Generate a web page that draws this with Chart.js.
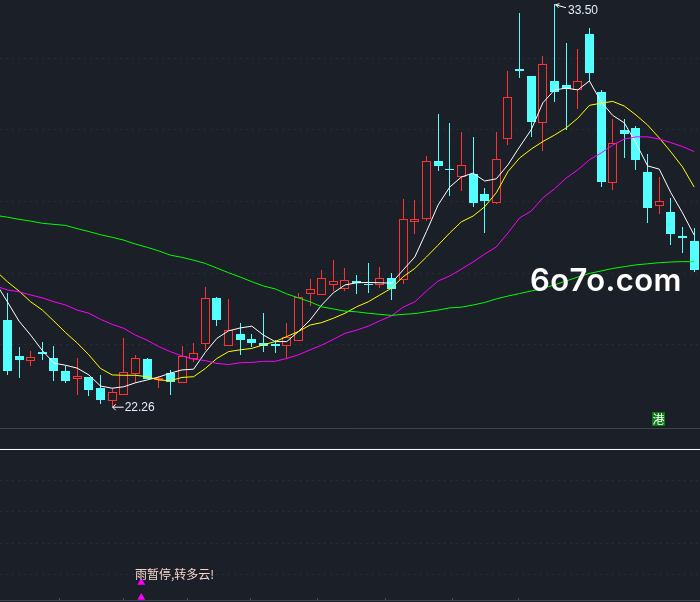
<!DOCTYPE html>
<html>
<head>
<meta charset="utf-8">
<title>K-line</title>
<script src="https://cdn.jsdelivr.net/npm/chart.js@4.4.0/dist/chart.umd.min.js"></script>
<style>
  html, body { margin: 0; padding: 0; background: #1b1f28; overflow: hidden; }
  canvas { display: block; }
</style>
</head>
<body>
<canvas id="klineChart" width="700" height="602"></canvas>
<script>
// Candles, one entry per trading day
const opens = [25.70,24.69,23.69,23.56,23.80,23.63,23.27,23.04,23.10,22.79,22.42,22.61,23.19,23.60,23.02,23.21,22.93,23.60,24.01,25.31,23.96,24.30,24.16,24.05,24.02,23.98,24.11,25.43,25.40,25.68,25.56,25.78,25.70,25.67,25.86,25.82,27.43,27.50,29.12,28.90,28.69,28.77,28.21,27.96,29.75,31.70,31.50,30.20,31.36,31.25,31.12,32.67,31.05,28.51,29.99,30.05,28.82,27.88,27.71,27.04,26.90];
const closes = [24.69,23.28,23.58,23.65,23.74,23.27,22.99,23.13,22.74,22.46,22.67,23.23,23.62,23.05,23.07,22.97,23.70,23.76,25.30,24.69,24.40,24.13,24.05,23.97,23.97,24.22,25.33,25.55,25.86,25.77,25.80,25.72,25.67,25.86,25.56,27.50,27.50,29.12,28.99,28.88,29.01,27.96,28.01,29.18,30.90,31.64,30.22,31.82,31.05,31.13,31.35,31.58,28.54,29.62,29.88,29.16,27.82,28.00,27.09,26.98,26.09];
const highs = [25.70,25.45,23.94,23.83,24.08,23.97,23.41,23.63,23.10,23.16,22.79,24.19,23.72,23.63,23.13,23.30,23.97,24.05,25.61,25.33,25.28,24.61,24.30,24.89,24.13,24.61,25.45,25.84,26.09,26.37,26.14,25.95,26.28,26.17,26.00,28.07,28.04,29.27,30.44,30.19,29.94,29.80,28.37,29.94,31.64,33.26,31.50,32.06,33.50,32.42,32.25,32.84,31.11,30.30,30.30,30.10,29.32,28.68,28.10,27.29,27.26];
const lows = [24.69,23.16,23.07,23.41,23.58,23.00,22.94,22.61,22.57,22.35,22.26,22.61,22.94,23.05,22.79,22.61,22.93,23.52,23.86,24.52,23.96,23.72,23.94,23.80,23.77,23.63,24.11,25.08,25.40,25.50,25.50,25.42,25.45,25.58,25.25,25.70,27.09,27.46,28.85,28.15,28.29,27.84,27.12,27.93,29.57,31.44,29.80,29.41,30.77,29.99,30.58,31.36,28.40,28.32,29.21,28.88,27.40,27.65,26.78,26.56,26.03];

// Moving averages
const ma5 = [25.72,25.20,24.66,24.27,23.84,23.49,23.43,23.35,23.16,22.85,22.79,22.83,22.94,23.02,23.10,23.21,23.30,23.32,23.79,24.18,24.39,24.47,24.52,24.27,24.09,24.09,24.37,24.69,25.11,25.45,25.67,25.73,25.74,25.73,25.72,26.09,26.45,27.16,27.90,28.40,28.68,28.79,28.57,28.63,29.02,29.52,30.00,30.75,31.11,31.16,31.11,31.36,30.78,30.40,30.19,29.63,28.99,28.90,28.24,27.68,27.06];
const ma10 = [26.06,25.76,25.50,25.20,24.97,24.66,24.34,24.05,23.72,23.34,23.16,23.15,23.15,23.11,23.02,23.00,23.09,23.11,23.34,23.62,23.81,23.86,23.90,24.00,24.09,24.23,24.37,24.55,24.62,24.74,24.88,25.06,25.20,25.39,25.58,25.90,26.13,26.45,26.78,27.12,27.43,27.59,27.85,28.24,28.83,29.21,29.46,29.67,29.85,30.05,30.32,30.68,30.74,30.79,30.66,30.41,30.13,29.77,29.38,28.96,28.40];
const ma20 = [25.64,25.53,25.48,25.39,25.31,25.20,25.11,24.97,24.88,24.71,24.57,24.46,24.27,24.13,23.95,23.81,23.69,23.60,23.56,23.48,23.45,23.50,23.51,23.54,23.54,23.62,23.72,23.86,23.99,24.15,24.32,24.41,24.52,24.67,24.81,25.05,25.20,25.50,25.78,25.92,26.11,26.31,26.53,26.73,27.12,27.54,27.73,28.10,28.35,28.65,28.88,29.16,29.35,29.57,29.74,29.80,29.80,29.74,29.64,29.53,29.39];
const ma60 = [27.61,27.56,27.50,27.45,27.39,27.36,27.33,27.24,27.16,27.07,27.00,26.92,26.81,26.72,26.62,26.50,26.44,26.36,26.27,26.14,26.01,25.89,25.76,25.64,25.56,25.42,25.31,25.20,25.06,25.00,24.94,24.92,24.88,24.85,24.82,24.85,24.87,24.92,24.97,25.03,25.05,25.11,25.18,25.28,25.36,25.43,25.50,25.58,25.67,25.78,25.89,25.99,26.06,26.13,26.18,26.23,26.26,26.29,26.31,26.32,26.32];

// Axes
const priceGrid = [24, 26, 28, 30, 32];
const oscGrid = [20, 40, 60, 80];
const dateTicks = [5.44, 10.9, 16.4, 21.8, 27.6, 33.4, 39.2, 44.9];

// Horizontal rules of the sub panel, in sub panel units
const panelRuleGray = 113.46;
const panelRuleWhite = 100;
const panelRuleBottom = 3.2;

// Signal marks in the sub panel
const signalX = [12.5, 12.5];
const signalY = [14.7, 5.1];

// Texts
const highLabel = '33.50';
const lowLabel = '22.26';
const signalLabel = '雨暂停,转多云!';
const boardLabel = '港';
const watermark = '6o7o.com';

const BG = '#1b1f28';
const RED = '#ff3232';
const CYAN = '#54ffff';
const X_MIN = 0.364;
const X_MAX = 60.50;

const indexes = opens.map((_, i) => i);
const isUp = i => closes[i] > opens[i];
const lineData = values => values.map((y, i) => ({ x: i, y }));
const rule = value => [{ x: X_MIN, y: value }, { x: X_MAX, y: value }];

function maDataset(label, values, color) {
  return { type: 'line', label, data: lineData(values), borderColor: color, borderWidth: 1,
    pointRadius: 0, tension: 0, order: 1, yAxisID: 'y' };
}

function ruleDataset(label, value, color) {
  return { type: 'line', label, data: rule(value), borderColor: color, borderWidth: 1,
    pointRadius: 0, order: 6, yAxisID: 'y2' };
}

/**
 * Snap candle rectangles to whole pixels so wicks stay 1px sharp
 */
const snapCandles = {
  id: 'snapCandles',
  afterDatasetsUpdate(chart) {
    chart.data.datasets.forEach((ds, d) => {
      if (ds.type !== 'bar') return;
      chart.getDatasetMeta(d).data.forEach(el => {
        el.x = Math.floor(el.x) + 0.5;
        const top = Math.round(Math.min(el.y, el.base));
        let bottom = Math.round(Math.max(el.y, el.base));
        if (bottom <= top) bottom = top + 1;
        el.y = top;
        el.base = bottom;
      });
    });
  }
};

/**
 * Texts and small marks on top of the series
 */
const chartNotes = {
  id: 'chartNotes',
  afterDraw(chart) {
    const { ctx, scales } = chart;
    const x = scales.x, y = scales.y, y2 = scales.y2;
    ctx.save();

    // date ticks on the bottom rule
    ctx.fillStyle = '#4a4f59';
    const bottom = Math.floor(y2.getPixelForValue(panelRuleBottom));
    dateTicks.forEach(t => ctx.fillRect(Math.round(x.getPixelForValue(t)), bottom - 2, 1, 2));

    ctx.font = '12px "Liberation Sans"';
    ctx.fillStyle = '#e4eefc';
    ctx.strokeStyle = '#ffffff';
    ctx.lineWidth = 1;
    ctx.textBaseline = 'alphabetic';

    // highest price, arrow comes from the right
    const hx = x.getPixelForValue(48), hy = y.getPixelForValue(33.50);
    ctx.fillText(highLabel, hx + 13.5, hy + 10);
    ctx.beginPath();
    ctx.moveTo(hx + 1, hy + 0.5); ctx.lineTo(hx + 11.5, hy + 3.5);
    ctx.moveTo(hx + 1, hy + 0.5); ctx.lineTo(hx + 5, hy - 0.5);
    ctx.moveTo(hx + 1, hy + 0.5); ctx.lineTo(hx + 4, hy + 3.5);
    ctx.stroke();

    // lowest price
    const lx = x.getPixelForValue(10), ly = y.getPixelForValue(22.26);
    ctx.fillText(lowLabel, lx + 12.5, ly + 4);
    ctx.beginPath();
    ctx.moveTo(lx + 0.5, ly); ctx.lineTo(lx + 11.5, ly);
    ctx.moveTo(lx + 0.5, ly); ctx.lineTo(lx + 3.5, ly - 3);
    ctx.moveTo(lx + 0.5, ly); ctx.lineTo(lx + 3.5, ly + 3);
    ctx.stroke();

    // signal text
    ctx.font = '12px "Noto Sans CJK SC"';
    ctx.fillStyle = '#f7d4cc';
    ctx.fillText(signalLabel, x.getPixelForValue(12) - 0.5, y2.getPixelForValue(16.3) - 1);

    // board tag
    const tx = Math.round(x.getPixelForValue(57)), ty = Math.round(y.getPixelForValue(21.90));
    ctx.fillStyle = '#0a7a10';
    ctx.fillRect(tx - 7, ty - 8, 13, 14);
    ctx.fillStyle = '#ffffff';
    ctx.textAlign = 'center';
    ctx.textBaseline = 'middle';
    ctx.fillText(boardLabel, tx - 0.5, ty - 1);

    // watermark
    ctx.font = '600 31px Inter';
    ctx.letterSpacing = '0.4px';
    ctx.textAlign = 'left';
    ctx.textBaseline = 'alphabetic';
    ctx.fillStyle = '#ffffff';
    ctx.fillText(watermark, 530, 290.5);

    ctx.restore();
  }
};

new Chart(document.getElementById('klineChart').getContext('2d'), {
  data: {
    datasets: [
      ruleDataset('rule gray', panelRuleGray, '#41454e'),
      ruleDataset('rule white', panelRuleWhite, '#ffffff'),
      ruleDataset('rule bottom', panelRuleBottom, '#41454e'),
      {
        type: 'bar', label: 'wick', order: 5, yAxisID: 'y', barThickness: 1, grouped: false,
        inflateAmount: 0,
        data: indexes.map(i => ({ x: i, y: [lows[i], highs[i]] })),
        backgroundColor: indexes.map(i => isUp(i) ? RED : CYAN)
      },
      {
        type: 'bar', label: 'body', order: 4, yAxisID: 'y', barThickness: 9, grouped: false,
        inflateAmount: 0,
        data: indexes.map(i => ({ x: i, y: [opens[i], closes[i]] })),
        backgroundColor: indexes.map(i => isUp(i) ? BG : CYAN),
        borderColor: indexes.map(i => isUp(i) ? RED : CYAN),
        borderWidth: 1,
        borderSkipped: false
      },
      maDataset('MA60', ma60, '#00ff00'),
      maDataset('MA20', ma20, '#ff00ff'),
      maDataset('MA10', ma10, '#ffff00'),
      maDataset('MA5', ma5, '#ffffff'),
      {
        type: 'scatter', label: 'signal', order: 0, yAxisID: 'y2',
        data: signalX.map((x, i) => ({ x, y: signalY[i] })),
        pointStyle: 'triangle', pointRadius: 4.5,
        backgroundColor: '#ff00ff', borderColor: '#ff00ff', borderWidth: 0
      }
    ]
  },
  options: {
    responsive: false,
    animation: false,
    layout: { padding: 0, autoPadding: false },
    plugins: { legend: { display: false }, tooltip: { enabled: false } },
    scales: {
      x: { type: 'linear', display: false, min: X_MIN, max: X_MAX, offset: false },
      y: {
        min: 16.826, max: 33.618,
        afterBuildTicks: axis => { axis.ticks = priceGrid.map(value => ({ value })); },
        ticks: { display: false },
        border: { display: false, dash: [2, 4] },
        grid: { color: '#282c35', drawTicks: false, lineWidth: 1 }
      },
      y2: {
        min: 2.24, max: 388.14,
        afterBuildTicks: axis => { axis.ticks = oscGrid.map(value => ({ value })); },
        ticks: { display: false },
        border: { display: false, dash: [2, 4] },
        grid: { color: '#282c35', drawTicks: false, lineWidth: 1 }
      }
    }
  },
  plugins: [snapCandles, chartNotes]
});
</script>
</body>
</html>
